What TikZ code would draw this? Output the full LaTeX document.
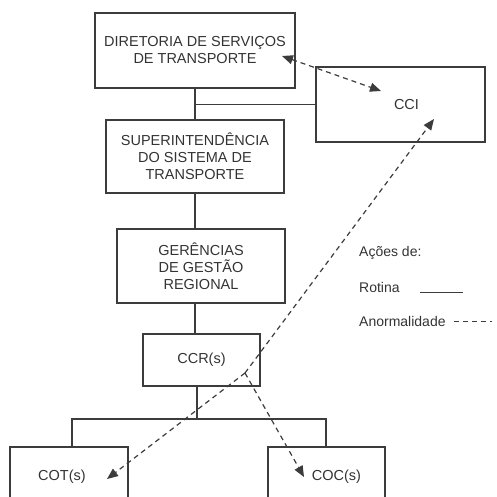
\documentclass[tikz,border=0pt]{standalone}
\usepackage{fontspec}
\setmainfont{Liberation Sans}
\usetikzlibrary{arrows.meta, positioning, calc}
\definecolor{ink}{HTML}{3C3C3C}
\definecolor{txt}{HTML}{333333}

\begin{document}
\begin{tikzpicture}[x=1pt, y=-1pt,
    block/.style={rectangle, draw=ink, line width=1.3pt, text=txt, align=center, inner sep=0pt, font=\fontsize{14.5}{17}\selectfont},
    link/.style={color=ink, line width=1.2pt},
    dasharr/.style={color=ink, line width=1.2pt, dash pattern=on 5pt off 4pt, -{Triangle[length=11pt, width=9pt]}},
    legend/.style={anchor=west, text=txt, inner sep=0pt, font=\fontsize{14}{17}\selectfont}
]
\useasboundingbox (0,0) rectangle (496,497);
\clip (0,0) rectangle (496,497);

\node[block, minimum width=200pt, minimum height=75pt] (dir) at (195,50.5) {DIRETORIA DE SERVIÇOS\\DE TRANSPORTE};
\node[block, minimum width=169pt, minimum height=75pt] (cci) at (400.5,104.5) {\hspace{12pt}CCI};
\node[block, minimum width=178pt, minimum height=73pt] (sup) at (195,156.5) {SUPERINTENDÊNCIA\\DO SISTEMA DE\\TRANSPORTE};
\node[block, minimum width=168pt, minimum height=74pt] (ger) at (201,266) {GERÊNCIAS\\DE GESTÃO\\REGIONAL};
\node[block, minimum width=117pt, minimum height=52pt] (ccr) at (201.5,360) {CCR(s)};
\node[block, minimum width=118pt, minimum height=60pt] (cot) at (69,477) {COT(s)\hspace{14pt}};
\node[block, minimum width=117pt, minimum height=60pt] (coc) at (326.5,477) {\hspace{20pt}COC(s)};

% routine links
\coordinate (bus) at (197,419);
\draw[link] (dir.south) -- (dir.south |- sup.north);
\draw[link] (dir.south |- cci.west) -- (cci.west);
\draw[link] (sup.south) -- (sup.south |- ger.north);
\draw[link] (sup.south |- ger.south) -- (sup.south |- ccr.north);
\draw[link] (bus |- ccr.south) -- (bus);
\draw[link] (72,447) |- (bus) -| (326,447);

% abnormal links
\coordinate (hub) at (245,373);
\coordinate (dirtip) at (282,56);
\coordinate (ccitip) at (381,91);
\coordinate (ccilow) at (434,119);
\coordinate (cottip) at (107,479);
\coordinate (coctip) at (304,477);
\draw[dasharr, {Triangle[length=11pt, width=9pt]}-{Triangle[length=11pt, width=9pt]}] (dirtip) -- (ccitip);
\draw[dasharr] (hub) -- (ccilow);
\draw[dasharr] (hub) -- (cottip);
\draw[dasharr] (hub) -- (coctip);

% legend
\node[legend] (acoes) at (359,253) {Ações de:};
\node[legend] (rotina) at (359,287) {Rotina};
\node[legend] (anorm) at (359,321) {Anormalidade};
\draw[link, line width=1pt] (420,292) -- (463,292);
\draw[link, line width=1pt, dash pattern=on 5pt off 4pt] (454,321) -- (492,321);

\end{tikzpicture}
\end{document}
